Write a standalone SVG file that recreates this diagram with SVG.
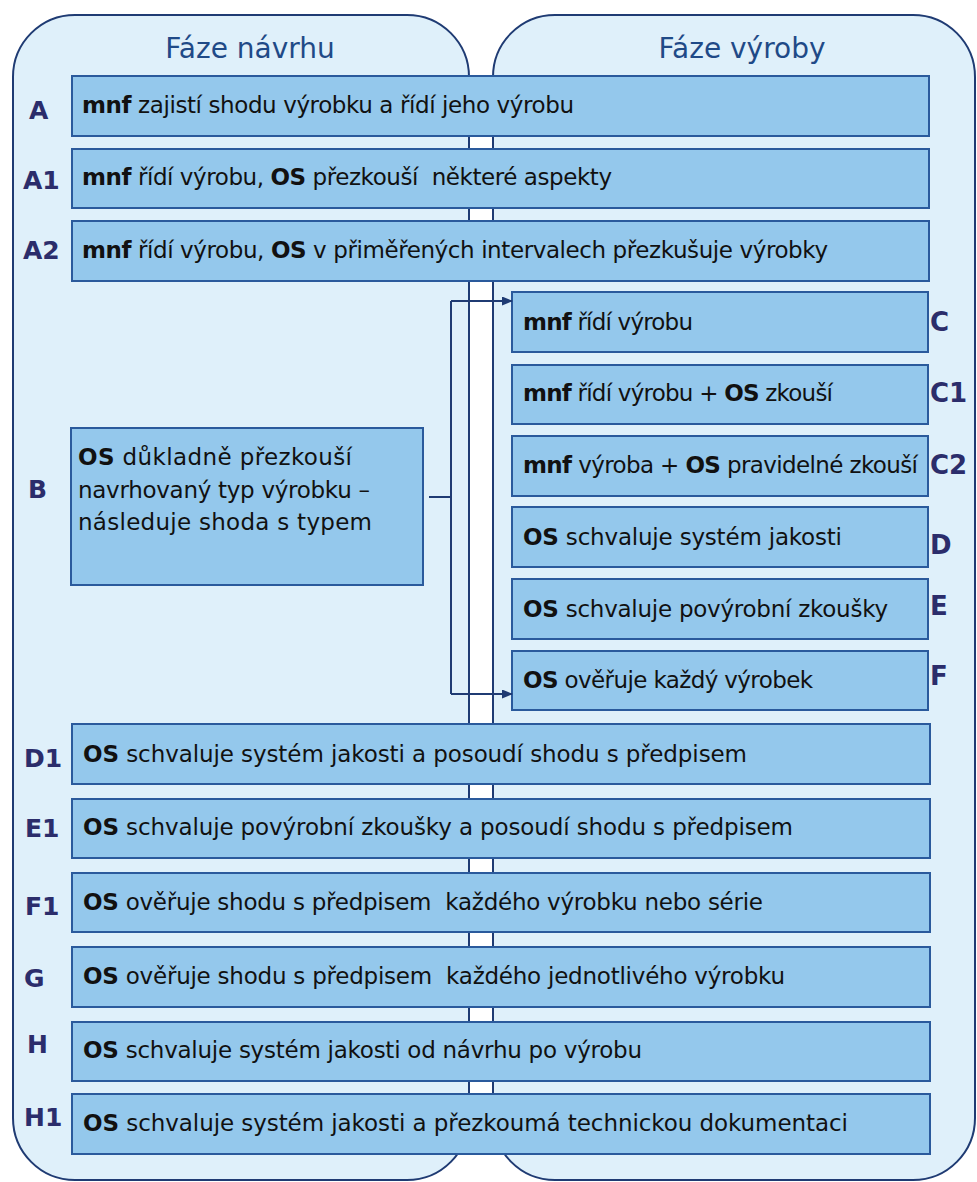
<svg xmlns="http://www.w3.org/2000/svg" width="977" height="1182" viewBox="0 0 977 1182">
<defs>
<style>
.cont{fill:#dff0fa;stroke:#1f3b73;stroke-width:2}
.bar{fill:#94c8ec;stroke:#2a5a9c;stroke-width:2}
.t{font-family:"DejaVu Sans","Liberation Sans",sans-serif;font-size:23px;fill:#111}
.b{font-weight:bold}
.lbl{font-family:"DejaVu Sans","Liberation Sans",sans-serif;font-weight:bold;font-size:25px;fill:#2b2d6b}
.lblr{font-size:26px}
.title{font-family:"DejaVu Sans","Liberation Sans",sans-serif;font-size:28px;fill:#1f4a87;text-anchor:middle}
.con{fill:none;stroke:#1f3b73;stroke-width:2}
</style>
<marker id="arr" markerWidth="11" markerHeight="9" refX="10" refY="4.5" orient="auto" markerUnits="userSpaceOnUse">
<path d="M0,0 L11,4.5 L0,9 z" fill="#1f3b73"/>
</marker>
</defs>
<rect width="977" height="1182" fill="#ffffff"/>
<g id="phase-design">
<rect class="cont" x="13" y="15" width="456" height="1165" rx="62" ry="62"/>
<text class="title" x="250" y="58">Fáze návrhu</text>
</g>
<g id="phase-production">
<rect class="cont" x="493" y="15" width="482" height="1165" rx="62" ry="62"/>
<text class="title" x="742" y="58">Fáze výroby</text>
</g>
<g id="A">
<rect class="bar" x="72" y="76" width="857" height="60"/>
<text class="lbl" x="29" y="119">A</text>
<text class="t" x="82" y="113" textLength="492" lengthAdjust="spacing"><tspan class="b">mnf</tspan> zajistí shodu výrobku a řídí jeho výrobu</text>
</g>
<g id="A1">
<rect class="bar" x="72" y="149" width="857" height="59"/>
<text class="lbl" x="23" y="189">A1</text>
<text class="t" x="82" y="185" xml:space="preserve" textLength="530" lengthAdjust="spacing"><tspan class="b">mnf</tspan> řídí výrobu, <tspan class="b">OS</tspan> přezkouší  některé aspekty</text>
</g>
<g id="A2">
<rect class="bar" x="72" y="221" width="857" height="60"/>
<text class="lbl" x="23" y="259">A2</text>
<text class="t" x="82" y="258" textLength="746" lengthAdjust="spacing"><tspan class="b">mnf</tspan> řídí výrobu, <tspan class="b">OS</tspan> v přiměřených intervalech přezkušuje výrobky</text>
</g>
<g id="B">
<rect class="bar" x="71" y="428" width="352" height="157"/>
<text class="lbl" x="28" y="498">B</text>
<text class="t" x="78" y="465" textLength="274" lengthAdjust="spacing"><tspan class="b">OS</tspan> důkladně přezkouší</text>
<text class="t" x="78" y="498" textLength="292" lengthAdjust="spacing">navrhovaný typ výrobku –</text>
<text class="t" x="78" y="530" textLength="294" lengthAdjust="spacing">následuje shoda s typem</text>
</g>
<g id="C">
<rect class="bar" x="512" y="292" width="416" height="60"/>
<text class="lbl lblr" x="930" y="331">C</text>
<text class="t" x="523" y="330" textLength="170" lengthAdjust="spacing"><tspan class="b">mnf</tspan> řídí výrobu</text>
</g>
<g id="C1">
<rect class="bar" x="512" y="365" width="416" height="59"/>
<text class="lbl lblr" x="930" y="402">C1</text>
<text class="t" x="523" y="401" textLength="310" lengthAdjust="spacing"><tspan class="b">mnf</tspan> řídí výrobu + <tspan class="b">OS</tspan> zkouší</text>
</g>
<g id="C2">
<rect class="bar" x="512" y="436" width="416" height="60"/>
<text class="lbl lblr" x="930" y="474">C2</text>
<text class="t" x="523" y="473" textLength="395" lengthAdjust="spacing"><tspan class="b">mnf</tspan> výroba + <tspan class="b">OS</tspan> pravidelné zkouší</text>
</g>
<g id="D">
<rect class="bar" x="512" y="507" width="416" height="60"/>
<text class="lbl lblr" x="930" y="554">D</text>
<text class="t" x="523" y="545" textLength="319" lengthAdjust="spacing"><tspan class="b">OS</tspan> schvaluje systém jakosti</text>
</g>
<g id="E">
<rect class="bar" x="512" y="579" width="416" height="60"/>
<text class="lbl lblr" x="930" y="615">E</text>
<text class="t" x="523" y="617" textLength="365" lengthAdjust="spacing"><tspan class="b">OS</tspan> schvaluje povýrobní zkoušky</text>
</g>
<g id="F">
<rect class="bar" x="512" y="651" width="416" height="59"/>
<text class="lbl lblr" x="930" y="685">F</text>
<text class="t" x="523" y="688" textLength="290" lengthAdjust="spacing"><tspan class="b">OS</tspan> ověřuje každý výrobek</text>
</g>
<g id="D1">
<rect class="bar" x="72" y="724" width="858" height="60"/>
<text class="lbl" x="24" y="767">D1</text>
<text class="t" x="83" y="762" textLength="664" lengthAdjust="spacing"><tspan class="b">OS</tspan> schvaluje systém jakosti a posoudí shodu s předpisem</text>
</g>
<g id="E1">
<rect class="bar" x="72" y="799" width="858" height="59"/>
<text class="lbl" x="25" y="837">E1</text>
<text class="t" x="83" y="835" textLength="710" lengthAdjust="spacing"><tspan class="b">OS</tspan> schvaluje povýrobní zkoušky a posoudí shodu s předpisem</text>
</g>
<g id="F1">
<rect class="bar" x="72" y="873" width="858" height="59"/>
<text class="lbl" x="25" y="915">F1</text>
<text class="t" x="83" y="910" xml:space="preserve" textLength="680" lengthAdjust="spacing"><tspan class="b">OS</tspan> ověřuje shodu s předpisem  každého výrobku nebo série</text>
</g>
<g id="G">
<rect class="bar" x="72" y="947" width="858" height="60"/>
<text class="lbl" x="24" y="987">G</text>
<text class="t" x="83" y="984" xml:space="preserve" textLength="702" lengthAdjust="spacing"><tspan class="b">OS</tspan> ověřuje shodu s předpisem  každého jednotlivého výrobku</text>
</g>
<g id="H">
<rect class="bar" x="72" y="1022" width="858" height="59"/>
<text class="lbl" x="27" y="1053">H</text>
<text class="t" x="83" y="1058" textLength="559" lengthAdjust="spacing"><tspan class="b">OS</tspan> schvaluje systém jakosti od návrhu po výrobu</text>
</g>
<g id="H1">
<rect class="bar" x="72" y="1094" width="858" height="60"/>
<text class="lbl" x="24" y="1126">H1</text>
<text class="t" x="83" y="1131" textLength="765" lengthAdjust="spacing"><tspan class="b">OS</tspan> schvaluje systém jakosti a přezkoumá technickou dokumentaci</text>
</g>
<g id="connectors">
<path class="con" d="M429,497 H451"/>
<path class="con" d="M451,301 V694"/>
<path class="con" d="M451,301 H512" marker-end="url(#arr)"/>
<path class="con" d="M451,694 H512" marker-end="url(#arr)"/>
</g>
</svg>
